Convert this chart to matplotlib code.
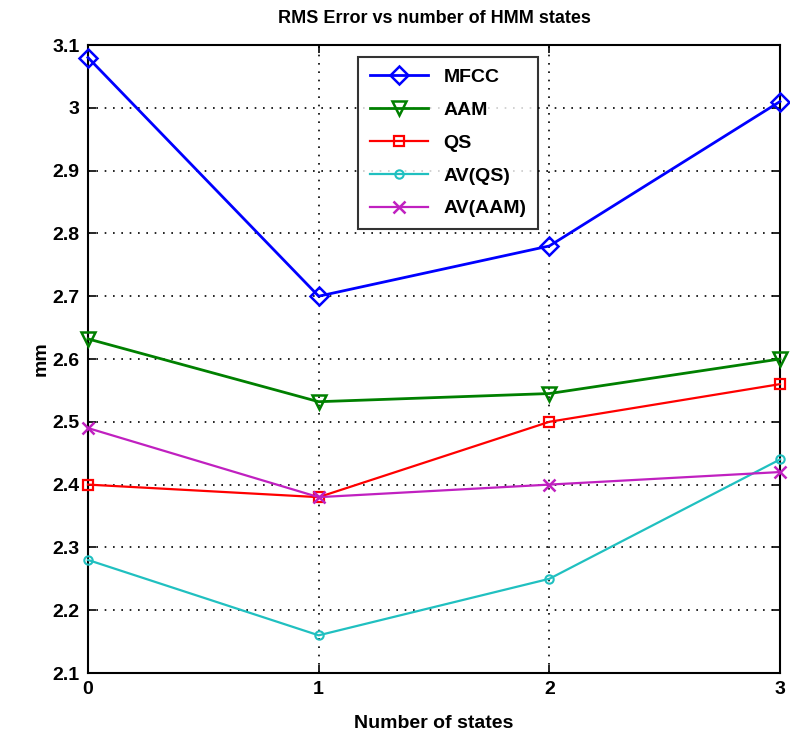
import matplotlib
matplotlib.use("Agg")
import matplotlib.pyplot as plt

states = [0, 1, 2, 3]
mfcc = [3.08, 2.70, 2.78, 3.01]
aam = [2.632, 2.532, 2.545, 2.60]
qs = [2.40, 2.38, 2.50, 2.56]
av_qs = [2.28, 2.16, 2.25, 2.44]
av_aam = [2.49, 2.38, 2.40, 2.42]
xticks = [0, 1, 2, 3]
yticks = [2.1, 2.2, 2.3, 2.4, 2.5, 2.6, 2.7, 2.8, 2.9, 3.0, 3.1]
ylabels = ["2.1", "2.2", "2.3", "2.4", "2.5", "2.6", "2.7", "2.8", "2.9", "3", "3.1"]

plt.rcParams['font.family'] = ['Liberation Sans', 'DejaVu Sans']
plt.rcParams['font.weight'] = 'bold'

fig = plt.figure(figsize=(7.9, 7.38), dpi=100)
ax = fig.add_axes([88/790, 1-673/738, 692/790, 628/738])

ax.plot(states, mfcc, color='#0000ff', marker='D', markersize=9, mfc='none', mew=1.8, lw=2, label='MFCC', clip_on=False, zorder=5)
ax.plot(states, aam, color='#008000', marker='v', markersize=10, mfc='none', mew=1.8, lw=2, label='AAM', clip_on=False, zorder=5)
ax.plot(states, qs, color='#ff0000', marker='s', markersize=7, mfc='none', mew=1.6, lw=1.6, label='QS', clip_on=False, zorder=5)
ax.plot(states, av_qs, color='#20c0c0', marker='o', markersize=6, mfc='none', mew=1.5, lw=1.6, label='AV(QS)', clip_on=False, zorder=5)
ax.plot(states, av_aam, color='#c020c0', marker='x', markersize=8, mew=1.8, lw=1.6, label='AV(AAM)', clip_on=False, zorder=5)

ax.set_xlim(0, 3)
ax.set_ylim(2.1, 3.1)
ax.set_xticks(xticks)
ax.set_yticks(yticks)
ax.set_yticklabels(ylabels)
ax.tick_params(labelsize=14, direction='in', length=6, width=1.2, top=True, right=True, pad=6)
for s in ax.spines.values():
    s.set_linewidth(1.5)
ax.grid(True, color='black', linestyle=(0, (1, 4)), linewidth=1.2)

ax.set_title('RMS Error vs number of HMM states', fontsize=13, fontweight='bold', pad=16)
ax.set_xlabel('Number of states', fontsize=14, fontweight='bold', labelpad=12)
ax.set_ylabel('mm', fontsize=14, fontweight='bold', labelpad=2)

leg = ax.legend(loc='upper left', bbox_to_anchor=(0.39, 0.981), borderaxespad=0, fontsize=14, frameon=True,
                fancybox=False, edgecolor='black', handlelength=3, labelspacing=0.78, borderpad=0.6)
leg.get_frame().set_linewidth(1.5)

fig.savefig('out.png', dpi=100)
